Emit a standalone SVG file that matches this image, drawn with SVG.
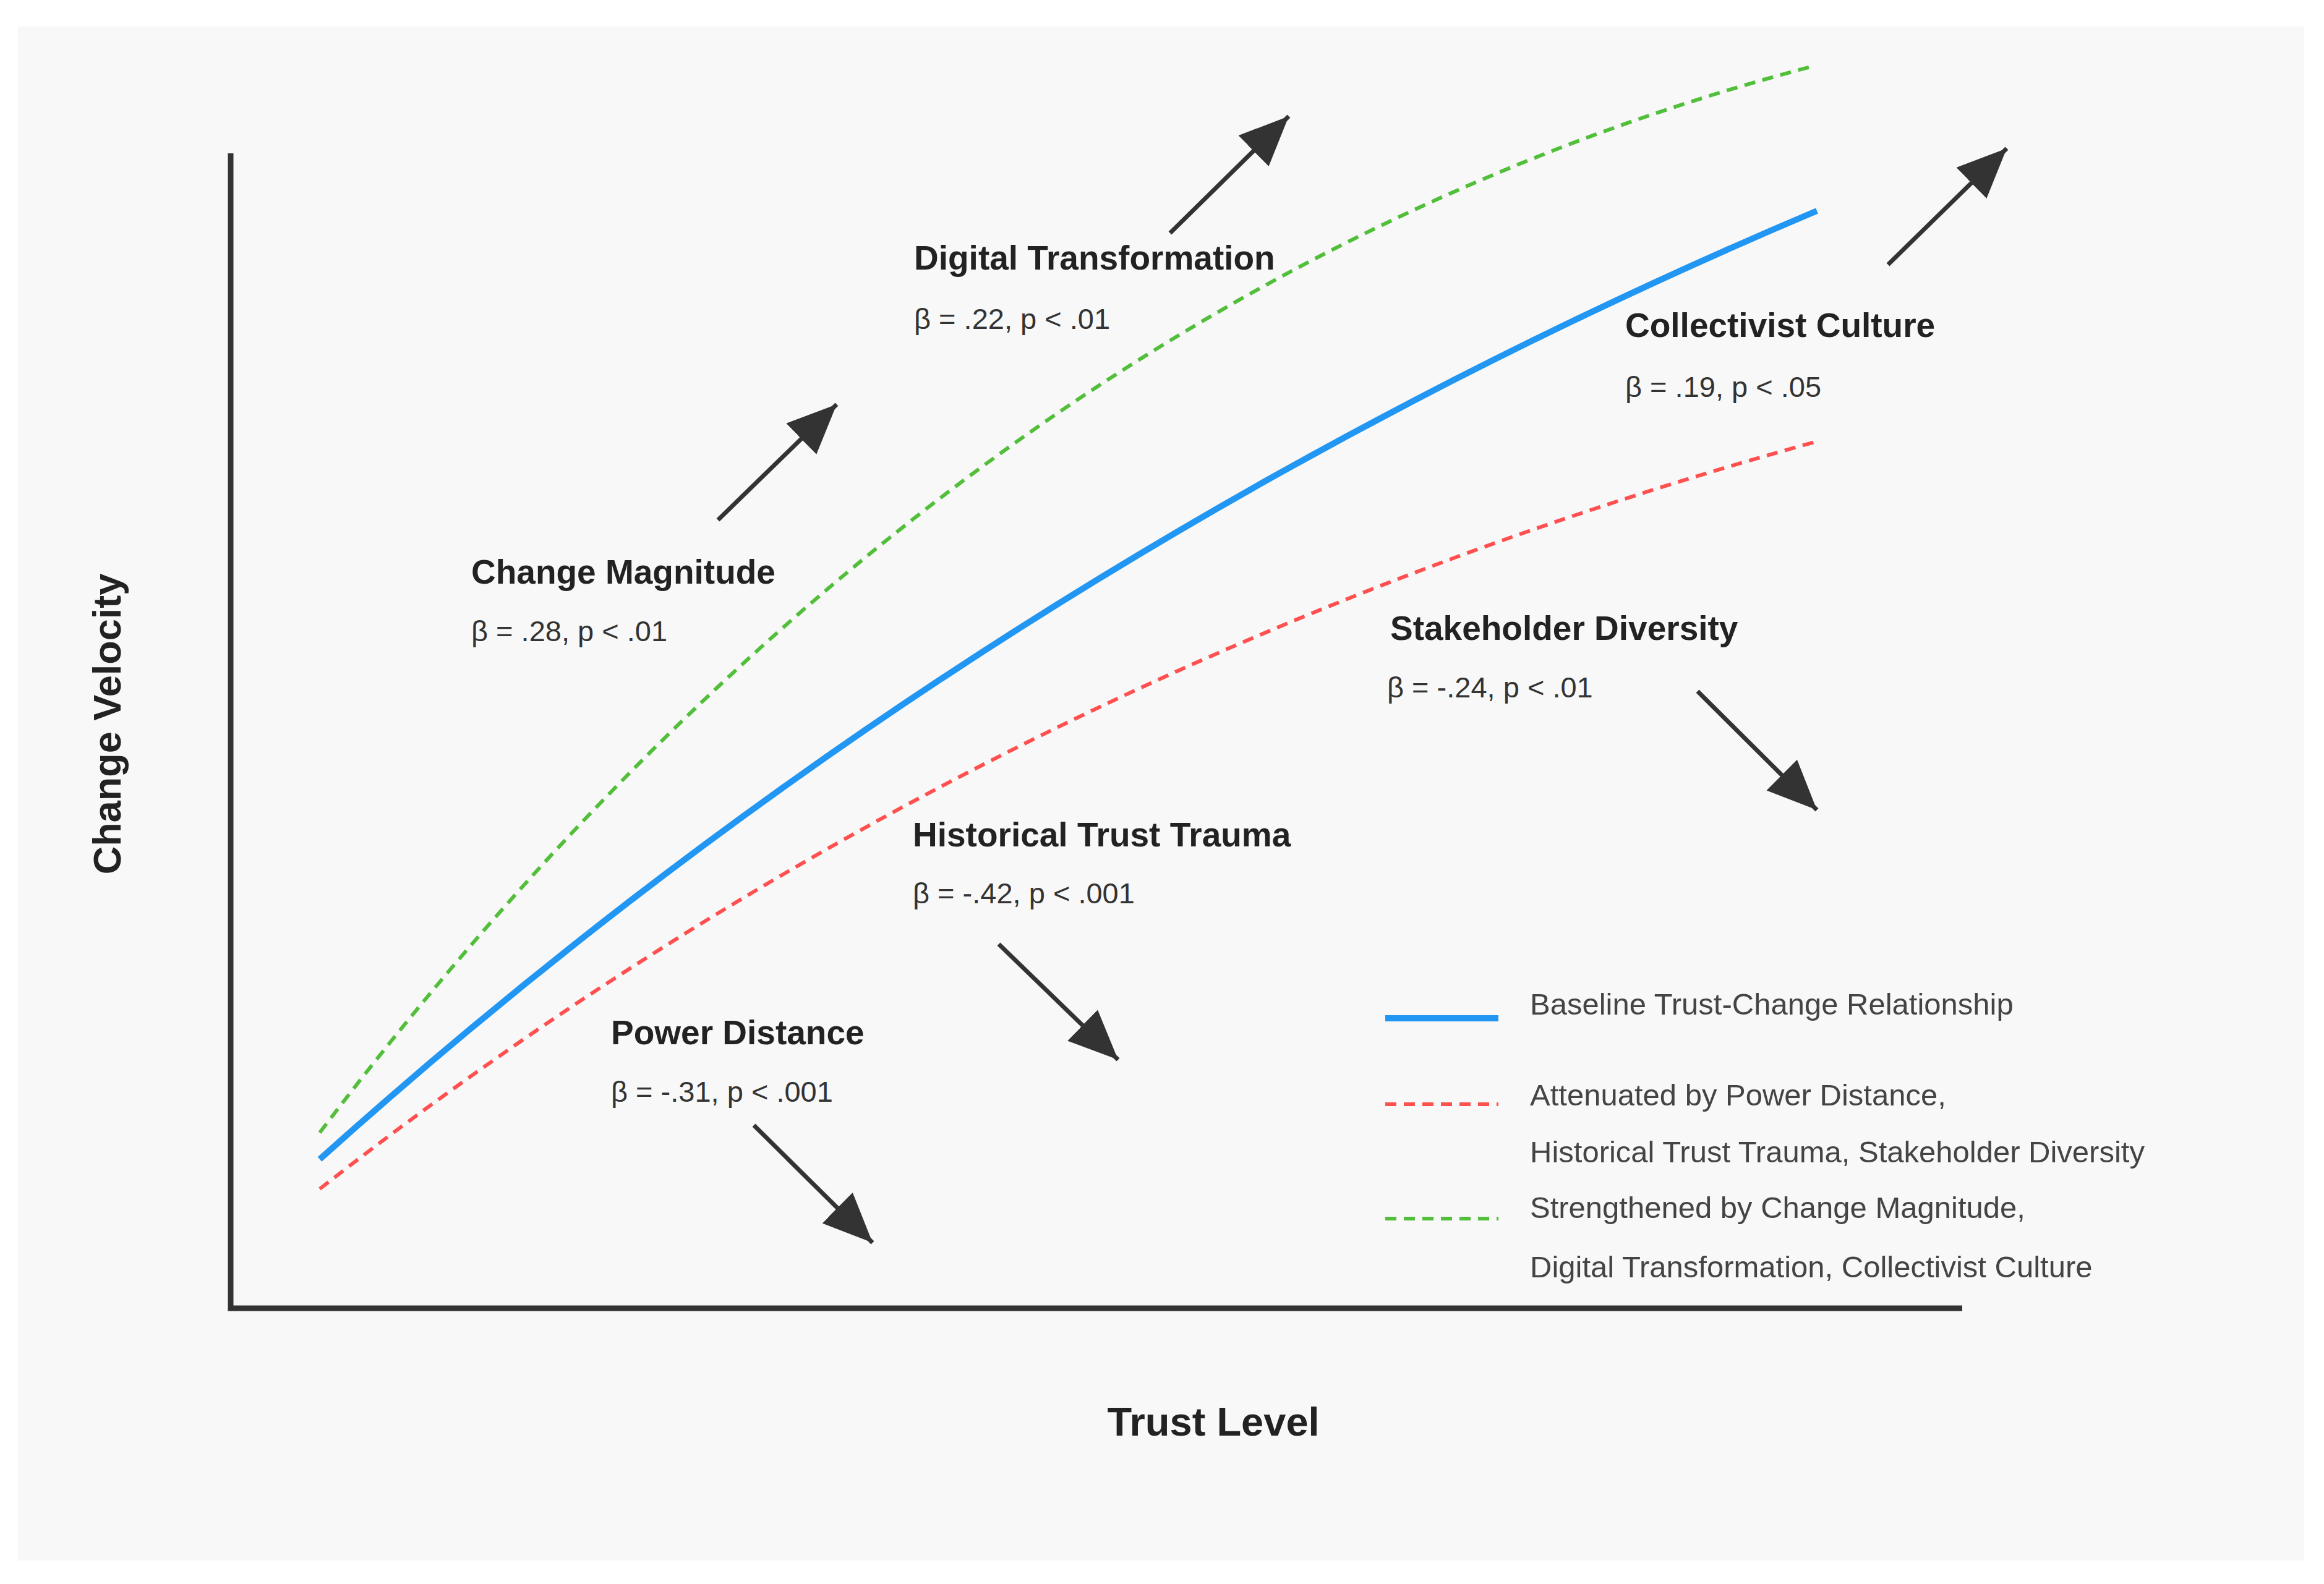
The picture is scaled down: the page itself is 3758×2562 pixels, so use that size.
<svg xmlns="http://www.w3.org/2000/svg" width="3758" height="2562" viewBox="0 0 3758 2562">
<style>
.t{font-family:"Liberation Sans",Arial,sans-serif;font-weight:bold;font-size:55px;fill:#222}
.b{font-family:"Liberation Sans",Arial,sans-serif;font-size:47px;fill:#333}
.l{font-family:"Liberation Sans",Arial,sans-serif;font-size:49px;fill:#444}
.ar{stroke:#333;stroke-width:7;fill:none;marker-end:url(#ah)}
</style>
<defs>
<marker id="ah" markerUnits="userSpaceOnUse" markerWidth="90" markerHeight="80" refX="80" refY="35" orient="auto">
<path d="M0,0 L80,35 L0,70 Z" fill="#333"/>
</marker>
</defs>
<rect width="3758" height="2562" fill="#fff"/>
<rect x="29" y="43" width="3697" height="2481" fill="#f8f8f8"/>
<g id="axes" stroke="#333" stroke-width="9" fill="none">
<path d="M373,248 V2116 H3173"/>
</g>
<g id="curves" fill="none">
<path d="M517,1832 Q1547,472 2928,108" stroke="#52bf3a" stroke-width="6" stroke-dasharray="18,12"/>
<path d="M517,1923 Q1590,1085 2938,714" stroke="#ff5050" stroke-width="6" stroke-dasharray="18,12"/>
<path d="M517,1875 Q1590,911 2938,341" stroke="#2196f3" stroke-width="10"/>
</g>
<g id="connectors">
<line class="ar" x1="1161" y1="841" x2="1353" y2="654"/>
<line class="ar" x1="1892" y1="377" x2="2084" y2="188"/>
<line class="ar" x1="3053" y1="428" x2="3245" y2="240"/>
<line class="ar" x1="2745" y1="1118" x2="2938" y2="1310"/>
<line class="ar" x1="1615" y1="1527" x2="1808" y2="1714"/>
<line class="ar" x1="1219" y1="1820" x2="1411" y2="2010"/>
</g>
<g id="digital"><text class="t" x="1478" y="436">Digital Transformation</text><text class="b" x="1478" y="532">β = .22, p &lt; .01</text></g>
<g id="collectivist"><text class="t" x="2628" y="545">Collectivist Culture</text><text class="b" x="2628" y="642">β = .19, p &lt; .05</text></g>
<g id="magnitude"><text class="t" x="762" y="944">Change Magnitude</text><text class="b" x="762" y="1037">β = .28, p &lt; .01</text></g>
<g id="stakeholder"><text class="t" x="2248" y="1035">Stakeholder Diversity</text><text class="b" x="2243" y="1128">β = -.24, p &lt; .01</text></g>
<g id="historical"><text class="t" x="1476" y="1369">Historical Trust Trauma</text><text class="b" x="1476" y="1461">β = -.42, p &lt; .001</text></g>
<g id="power"><text class="t" x="988" y="1689">Power Distance</text><text class="b" x="988" y="1782">β = -.31, p &lt; .001</text></g>
<g id="xlabel"><text class="t" style="font-size:65px" x="1962" y="2322" text-anchor="middle">Trust Level</text></g>
<g id="ylabel"><text class="t" style="font-size:63px" x="0" y="0" text-anchor="middle" transform="translate(195,1171) rotate(-90)">Change Velocity</text></g>
<g id="legend">
<line x1="2240" y1="1647" x2="2423" y2="1647" stroke="#2196f3" stroke-width="10"/>
<text class="l" x="2474" y="1641">Baseline Trust-Change Relationship</text>
<line x1="2240" y1="1786" x2="2423" y2="1786" stroke="#ff5050" stroke-width="6" stroke-dasharray="18,12"/>
<text class="l" x="2474" y="1788">Attenuated by Power Distance,</text>
<text class="l" x="2474" y="1880">Historical Trust Trauma, Stakeholder Diversity</text>
<line x1="2240" y1="1971" x2="2423" y2="1971" stroke="#52bf3a" stroke-width="6" stroke-dasharray="18,12"/>
<text class="l" x="2474" y="1970">Strengthened by Change Magnitude,</text>
<text class="l" x="2474" y="2066">Digital Transformation, Collectivist Culture</text>
</g>
</svg>
